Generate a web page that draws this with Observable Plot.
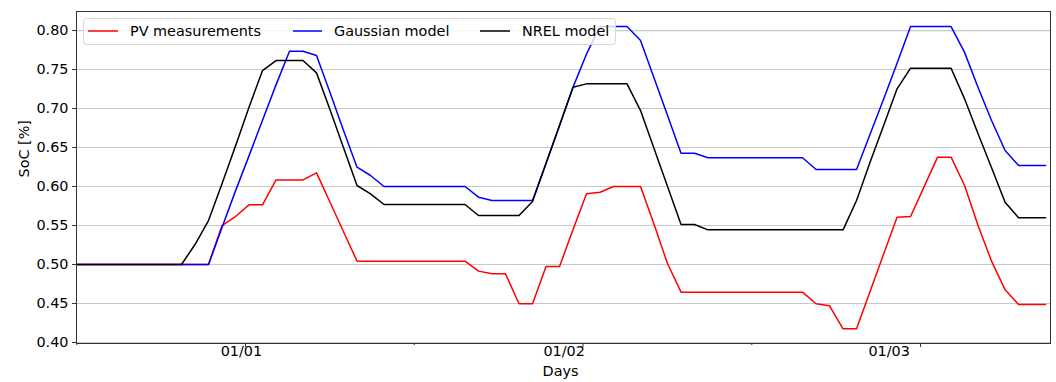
<!DOCTYPE html>
<html>
<head>
<meta charset="utf-8">
<script src="https://cdn.jsdelivr.net/npm/d3@7"></script>
<script src="https://cdn.jsdelivr.net/npm/@observablehq/plot@0.6"></script>
<style>
  html, body { margin: 0; padding: 0; background: #fff; }
  #chart { width: 1056px; height: 382px; }
</style>
</head>
<body>
<div id="chart"></div>
<script>
// Sample times (days relative to 01/01 00:00): regular steps
const t0 = -0.5096;
const step = 0.04;

const seriesNames = ["PV measurements", "Gaussian model", "NREL model"];
const seriesColors = ["#ff0000", "#0000ff", "#000000"];

const pv = [
  0.50,0.50,0.50,0.50,0.50,0.50,0.50,0.50,0.50,0.50,0.50,
  0.55,0.5615,0.5765,0.5765,0.6085,0.6085,0.6085,0.6175,0.5798,0.542,0.5043,
  0.5043,0.5043,0.5043,0.5043,0.5043,0.5043,0.5043,0.5043,
  0.4915,0.488,0.488,0.4496,0.4496,0.4974,0.4974,0.5449,0.5906,0.5927,0.600,0.600,0.600,0.5517,0.5009,0.4645,
  0.4645,0.4645,0.4645,0.4645,0.4645,0.4645,0.4645,0.4645,0.4645,
  0.4496,0.447,0.4175,0.4175,0.4655,0.513,0.5607,0.5615,0.5996,0.6376,0.6376,0.6013,0.550,0.5043,0.4675,0.4487,
  0.4487,0.4487
];

const gaussian = [
  0.50,0.50,0.50,0.50,0.50,0.50,0.50,0.50,0.50,0.50,0.50,
  0.5474,0.5944,0.6393,0.685,0.7303,0.7735,0.7735,0.768,0.7205,0.6718,0.6248,0.6141,0.600,
  0.600,0.600,0.600,0.600,0.600,0.600,
  0.5863,0.582,0.582,0.582,0.582,
  0.6295,0.678,0.7274,0.770,0.8051,
  0.8051,0.8051,
  0.7872,0.739,0.691,0.6427,0.6427,0.6368,
  0.6368,0.6368,0.6368,0.6368,0.6368,0.6368,0.6368,
  0.6218,0.6218,0.6218,0.6218,
  0.667,0.712,0.758,0.8051,
  0.8051,0.8051,0.8051,
  0.772,0.727,0.6846,0.6462,0.6269,
  0.6269,0.6269
];

const nrel = [
  0.50,0.50,0.50,0.50,0.50,0.50,0.50,0.50,0.50,
  0.5256,0.5564,0.6034,0.652,0.7017,0.7487,0.7615,0.7615,0.7615,0.7457,0.6983,0.6496,0.6013,0.5906,0.5769,
  0.5769,0.5769,0.5769,0.5769,0.5769,0.5769,
  0.5628,0.5628,0.5628,0.5628,
  0.5808,0.6297,0.6785,0.7274,0.7316,
  0.7316,0.7316,0.7316,
  0.6974,0.6487,0.6000,0.5513,0.5513,0.5444,
  0.5444,0.5444,0.5444,0.5444,0.5444,0.5444,0.5444,0.5444,0.5444,0.5444,
  0.582,0.6310,0.6780,0.7252,0.7517,
  0.7517,0.7517,0.7517,
  0.7124,0.6677,0.6241,0.5799,0.5598,
  0.5598,0.5598
];

const yTicks = [0.40,0.45,0.50,0.55,0.60,0.65,0.70,0.75,0.80];
const xMajorTicks = [0, 1, 2];
const xMinorTicks = [-0.5, 0.5, 1.5];
const xTickLabels = ["01/01", "01/02", "01/03"];
const xTickLabelPos = [-0.012, 0.944, 1.907];

const FS = 14.4;
const FONT = "DejaVu Sans";

const allSeries = [pv, gaussian, nrel];
const rows = [];
allSeries.forEach((vals, s) => {
  vals.forEach((v, i) => rows.push({series: seriesNames[s], t: t0 + i * step, v}));
});
const labelRows = xTickLabels.map((text, i) => ({text, x: xTickLabelPos[i]}));

const chart = Plot.plot({
  width: 1056,
  height: 382,
  marginLeft: 76,
  marginRight: 6,
  marginTop: 11,
  marginBottom: 39,
  style: {fontFamily: FONT, background: "#fff", color: "#000"},
  x: {domain: [-0.5007, 2.385]},
  y: {domain: [0.3987, 0.8244]},
  color: {domain: seriesNames, range: seriesColors},
  marks: [
    Plot.gridY(yTicks, {stroke: "#c8c8c8", strokeOpacity: 1, strokeWidth: 1.2}),
    Plot.line(rows, {x: "t", y: "v", z: "series", stroke: "series", strokeWidth: 1.5, clip: true}),
    Plot.frame({stroke: "#333", strokeWidth: 1}),
    Plot.axisY({ticks: yTicks, tickFormat: () => "", tickSize: 4, label: null, stroke: "#333"}),
    Plot.axisX({ticks: xMajorTicks, tickFormat: () => "", tickSize: 4, label: null, stroke: "#333"}),
    Plot.axisX({ticks: xMinorTicks, tickFormat: () => "", tickSize: 2, label: null, stroke: "#333"}),
    Plot.text(yTicks, {y: d => d, text: d => d3.format(".2f")(d), frameAnchor: "left", dx: -8, textAnchor: "end", fontSize: FS, fontFamily: FONT, fill: "#000"}),
    Plot.text(labelRows, {x: "x", text: "text", frameAnchor: "bottom", dy: 12, fontSize: FS, fontFamily: FONT, fill: "#000"}),
    Plot.text(["Days"], {frameAnchor: "bottom", dy: 32, fontSize: FS, fontFamily: FONT, fill: "#000", dx: -3}),
    Plot.text(["SoC [%]"], {frameAnchor: "left", dx: -52, rotate: -90, fontSize: FS, fontFamily: FONT, fill: "#000"})
  ]
});

document.getElementById("chart").appendChild(chart);

// Legend inside the plot area (upper left)
const svg = d3.select(chart);
const lg = svg.append("g")
  .attr("font-family", FONT)
  .attr("font-size", FS)
  .attr("text-anchor", "start");
lg.append("rect")
  .attr("x", 83.5).attr("y", 18.5).attr("width", 532).attr("height", 26).attr("rx", 3)
  .attr("fill", "#fff").attr("fill-opacity", 0.8).attr("stroke", "#d6d6d6");
const entries = [
  {x1: 88, x2: 118, tx: 130},
  {x1: 293, x2: 322, tx: 334},
  {x1: 480, x2: 510, tx: 522}
];
entries.forEach((e, i) => {
  lg.append("line").attr("x1", e.x1).attr("x2", e.x2).attr("y1", 31).attr("y2", 31)
    .attr("stroke", seriesColors[i]).attr("stroke-width", 1.5);
  lg.append("text").attr("x", e.tx).attr("y", 31).attr("dy", "0.36em")
    .attr("text-anchor", "start").attr("font-size", FS)
    .attr("fill", "#000").text(seriesNames[i]);
});
</script>
</body>
</html>
